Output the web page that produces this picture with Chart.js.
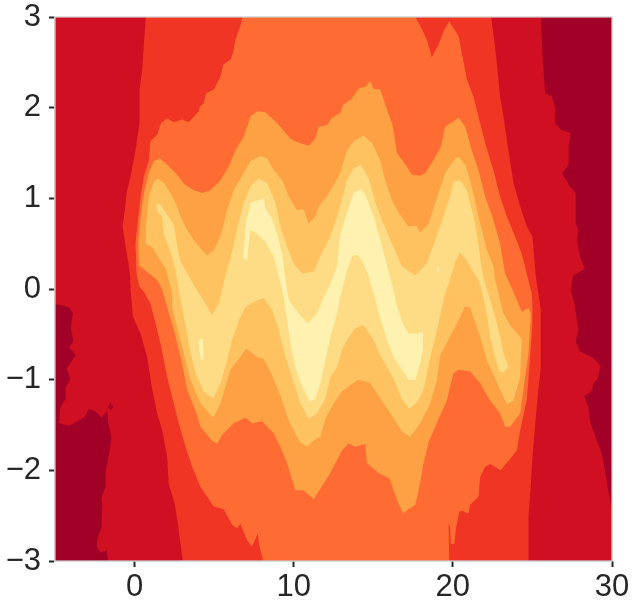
<!DOCTYPE html>
<html lang="en">
<head>
  <meta charset="UTF-8" />
  <title>Filled contour</title>
  <script src="https://cdn.jsdelivr.net/npm/chart.js"></script>
  <style>
    body { margin: 0; background: #fff; }
    canvas { display: block; }
  </style>
</head>
<body>
  <canvas id="contour" width="636" height="609"></canvas>
  <script>
    const xTicks = [0, 10, 20, 30];
    const yTicks = [-3, -2, -1, 0, 1, 2, 3];

    // contour outlines in data units [x, y], outermost first
    const level0 = [[-5,-3],[30,-3],[30,3],[-5,3]];
    const level1 = [[-5,3],[25.54,3],[25.63,2.6],[25.8,2.16],[26.21,2.13],[26.42,2.01],[26.42,1.83],[26.84,1.75],[27.41,1.72],[27.28,1.57],[27.28,1.38],[26.88,1.27],[27.36,1.13],[27.72,1.06],[27.72,0.72],[27.89,0.65],[27.78,0.54],[28.03,0.34],[28.3,0.22],[27.57,0.15],[27.41,-0.01],[27.64,-0.16],[27.88,-0.45],[27.72,-0.58],[27.99,-0.69],[28.83,-0.76],[29.29,-0.85],[29.1,-0.99],[28.83,-1.04],[28.72,-1.13],[28.24,-1.18],[28.51,-1.3],[28.62,-1.46],[29.04,-1.67],[29.35,-1.81],[29.56,-2],[29.77,-2.22],[30,-2.44],[30,-3],[-1.67,-3],[-1.76,-2.88],[-2.13,-2.91],[-2.38,-2.84],[-2.34,-2.75],[-2.09,-2.64],[-2.03,-2.37],[-2.09,-2.31],[-1.82,-2.18],[-1.82,-2.02],[-1.51,-1.72],[-1.46,-1.63],[-1.65,-1.48],[-1.72,-1.34],[-2.07,-1.42],[-2.45,-1.35],[-2.87,-1.32],[-3.12,-1.41],[-3.6,-1.46],[-4.12,-1.51],[-4.75,-1.48],[-4.65,-1.3],[-4.33,-1.21],[-4.33,-1.08],[-4.02,-0.99],[-4.27,-0.88],[-3.7,-0.73],[-4.12,-0.64],[-3.84,-0.58],[-4,-0.43],[-3.87,-0.27],[-4.12,-0.2],[-4.75,-0.17],[-5,-0.17]];
    const darkSpot = [[-1.67,-1.3],[-1.51,-1.25],[-1.36,-1.3],[-1.51,-1.34]];
    const level2 = [[0.71,3],[0.59,2.71],[0.48,2.42],[0.31,2.2],[0.31,1.83],[0.06,1.53],[-0.25,1.24],[-0.5,1.06],[-0.63,0.84],[-0.75,0.69],[-0.56,0.47],[-0.29,0.17],[-0.25,-0.01],[-0.1,-0.31],[0.38,-0.49],[0.79,-0.75],[1.11,-1.11],[1.42,-1.37],[1.74,-1.56],[2.05,-1.85],[2.15,-2.15],[2.53,-2.37],[2.72,-2.59],[3.03,-3],[24.75,-3],[24.75,-2.51],[24.85,-2.29],[25,-1.85],[25.27,-1.3],[25.52,-0.86],[25.52,-0.22],[25.21,0.14],[25,0.58],[24.65,0.69],[24.23,0.91],[23.81,1.17],[23.49,1.53],[23.18,1.9],[22.97,2.12],[22.7,2.6],[22.41,3]];
    const level3 = [[6.78,3],[6.65,2.9],[6.34,2.75],[6.19,2.6],[6.03,2.53],[5.56,2.47],[5.4,2.34],[4.98,2.2],[4.5,2.16],[4.35,2.05],[4.1,2.01],[4.04,1.96],[3.62,1.88],[3.41,1.84],[2.99,1.87],[2.47,1.84],[2.05,1.88],[1.67,1.83],[1.42,1.7],[1,1.63],[0.9,1.42],[0.59,1.24],[0.38,1.02],[0.17,0.69],[0.06,0.5],[0.13,0.17],[0.29,0.03],[0.59,-0.03],[1,-0.16],[1.32,-0.38],[1.63,-0.6],[2.05,-0.97],[2.36,-1.19],[2.78,-1.48],[3.2,-1.74],[3.62,-1.96],[4.14,-2.18],[4.98,-2.4],[5.61,-2.43],[6.13,-2.6],[6.44,-2.64],[6.65,-2.59],[7.07,-2.77],[7.38,-2.84],[7.74,-2.7],[7.85,-2.84],[8.08,-3],[19.77,-3],[19.73,-2.59],[19.83,-2.63],[19.87,-2.81],[20.1,-2.81],[20.19,-2.64],[20.42,-2.45],[20.67,-2.45],[20.98,-2.48],[21.09,-2.38],[21.61,-2.29],[21.72,-2.07],[22.03,-1.96],[22.34,-1.93],[23.01,-2],[23.7,-1.85],[24.02,-1.78],[24.23,-1.56],[24.65,-1.22],[24.85,-0.75],[25,-0.38],[25,-0.16],[24.96,-0.05],[24.64,0.17],[24.33,0.39],[23.91,0.58],[23.39,0.8],[22.97,1.02],[22.55,1.31],[22.03,1.61],[21.61,1.9],[21.3,2.12],[20.88,2.31],[20.57,2.6],[20.36,2.79],[19.77,2.95],[19.41,2.84],[19.1,2.69],[18.68,2.56],[18.37,2.75],[17.95,2.9],[17.64,3]];
    const level4 = [[0.29,0.26],[0.23,0.5],[0.38,0.8],[0.59,1.06],[0.9,1.28],[1.21,1.41],[1.59,1.44],[2.05,1.37],[2.68,1.26],[3.1,1.16],[3.72,1.09],[4.25,1.06],[4.77,1.09],[5.4,1.2],[5.92,1.35],[6.34,1.53],[6.86,1.68],[7.28,1.9],[7.7,1.96],[8.22,1.95],[8.95,1.83],[9.79,1.66],[10.21,1.62],[10.94,1.58],[11.36,1.66],[11.57,1.79],[12.09,1.81],[12.41,1.89],[12.93,1.94],[13.1,2.03],[13.66,2.1],[14.08,2.21],[14.5,2.23],[14.81,2.29],[15.02,2.21],[15.44,2.2],[15.86,1.98],[16.21,1.81],[16.49,1.5],[17.11,1.35],[17.43,1.26],[17.95,1.25],[18.27,1.28],[18.68,1.39],[19.25,1.57],[19.52,1.79],[20.36,1.89],[20.78,1.79],[21.19,1.53],[21.61,1.31],[22.03,1.02],[22.55,0.76],[22.97,0.5],[23.28,0.17],[23.7,0.01],[24.33,-0.25],[24.75,-0.21],[24.9,-0.27],[24.75,-0.71],[24.23,-1.37],[23.6,-1.52],[23.28,-1.52],[22.97,-1.37],[22.34,-1.23],[21.72,-1.04],[21.09,-0.91],[20.36,-0.89],[20.04,-0.93],[19.62,-1.23],[19.21,-1.39],[18.47,-1.69],[18.16,-1.92],[17.85,-2.22],[17.64,-2.38],[17.11,-2.44],[16.9,-2.48],[16.59,-2.37],[16.28,-2.22],[16.03,-2.09],[15.34,-2.03],[14.6,-1.92],[14.5,-1.71],[13.87,-1.74],[13.45,-1.7],[13.03,-1.78],[12.3,-2.03],[11.26,-2.32],[10.63,-2.22],[10.1,-2.22],[9.58,-1.92],[9.16,-1.74],[8.74,-1.59],[8.01,-1.46],[7.39,-1.48],[6.97,-1.42],[6.23,-1.48],[5.5,-1.61],[5.18,-1.71],[4.87,-1.67],[4.14,-1.52],[3.93,-1.39],[3.31,-1.11],[2.89,-0.75],[2.47,-0.45],[2.05,-0.2],[1.74,-0.01],[1.42,0.1],[0.79,0.19]];
    const level5 = [[0.69,0.5],[0.73,0.72],[0.9,1.02],[1.21,1.18],[1.46,1.22],[1.84,1.17],[2.26,1.06],[2.68,0.91],[2.89,0.8],[3.31,0.65],[3.72,0.54],[4.14,0.45],[4.56,0.37],[4.98,0.43],[5.4,0.58],[5.82,0.87],[6.23,1.09],[6.86,1.28],[7.28,1.41],[7.91,1.47],[8.33,1.44],[8.74,1.31],[9.27,1.2],[9.69,1.02],[10.21,0.87],[10.63,0.88],[10.94,0.72],[11.36,0.8],[11.57,0.91],[12.09,1.02],[12.93,1.28],[13.35,1.53],[13.77,1.63],[14.39,1.69],[14.92,1.61],[15.44,1.42],[15.75,1.2],[16.17,0.98],[16.59,0.84],[17.21,0.69],[17.7,0.7],[17.95,0.62],[18.47,0.72],[18.99,1],[19.52,1.28],[20.14,1.44],[20.36,1.46],[20.78,1.37],[21.19,1.13],[21.72,0.72],[22.14,0.43],[22.55,0.25],[22.66,0.1],[23.18,-0.27],[23.6,-0.4],[24.33,-0.55],[24.23,-0.97],[23.81,-1.23],[23.39,-1.27],[23.08,-1.15],[22.13,-0.78],[21.72,-0.53],[21.09,-0.21],[20.77,-0.19],[20.25,-0.38],[19.21,-0.73],[19,-1],[18.58,-1.26],[17.95,-1.48],[17.32,-1.63],[16.8,-1.57],[16.07,-1.37],[15.65,-1.26],[14.81,-1.04],[14.5,-1.02],[14.08,-1],[13.56,-1.06],[13.03,-1.13],[12.51,-1.26],[11.99,-1.43],[11.67,-1.63],[11.26,-1.67],[10.84,-1.74],[10.42,-1.69],[10.21,-1.63],[9.69,-1.45],[9.16,-1.17],[8.64,-0.95],[8.12,-0.77],[7.7,-0.75],[7.03,-0.66],[6.03,-0.89],[5.4,-1.26],[4.94,-1.42],[4.14,-1.26],[3.51,-1],[3.31,-0.86],[2.78,-0.49],[2.36,-0.2],[2.36,-0.08],[2.26,0.03],[1.95,0.23],[1.53,0.34],[1.11,0.46]];
    const level6 = [[1.38,0.94],[1.63,0.93],[2.05,0.82],[2.47,0.71],[2.68,0.47],[2.89,0.3],[3.2,0.21],[3.72,0.04],[4.25,-0.1],[4.87,-0.29],[5.29,-0.16],[5.71,0.14],[6.03,0.34],[6.44,0.65],[6.86,0.95],[7.28,1.13],[7.81,1.22],[8.33,1.17],[8.85,0.95],[9.16,0.69],[9.58,0.47],[9.99,0.28],[10.53,0.17],[11.26,0.19],[11.67,0.36],[12.3,0.58],[12.82,0.84],[13.35,1.2],[13.77,1.33],[14.23,1.37],[14.71,1.22],[15.13,0.95],[15.54,0.76],[16.07,0.54],[16.8,0.25],[17.63,0.15],[18.37,0.28],[18.9,0.54],[19.41,0.8],[19.83,1.02],[20.04,1.18],[20.46,1.2],[20.88,1.09],[21.3,0.8],[21.61,0.5],[21.82,0.21],[22.14,-0.01],[22.34,-0.12],[22.66,-0.31],[22.97,-0.53],[23.18,-0.71],[23.49,-0.86],[23.18,-0.92],[22.93,-0.91],[22.66,-0.75],[22.34,-0.53],[22.13,-0.27],[21.82,-0.01],[21.61,0.1],[21.19,0.21],[20.88,0.32],[20.46,0.4],[20.14,0.3],[19.94,0.17],[19.52,-0.05],[19.21,-0.27],[19.1,-0.38],[18.58,-0.75],[18.16,-1.11],[17.78,-1.24],[17.26,-1.32],[16.8,-1.21],[16.28,-0.99],[15.44,-0.73],[15.02,-0.56],[14.39,-0.4],[13.87,-0.43],[13.35,-0.56],[13.03,-0.67],[12.72,-0.86],[12.3,-0.97],[11.99,-1.21],[11.46,-1.37],[10.94,-1.43],[10.42,-1.26],[10.1,-1.08],[9.69,-0.86],[9.37,-0.67],[9.06,-0.45],[8.64,-0.23],[8.12,-0.1],[7.49,-0.14],[6.97,-0.2],[6.65,-0.31],[6.13,-0.56],[5.82,-0.78],[5.4,-1.04],[4.94,-1.21],[4.35,-1.13],[3.93,-0.97],[3.51,-0.71],[3.3,-0.49],[3.1,-0.31],[2.78,-0.01],[2.57,0.21],[2.36,0.36],[1.84,0.61],[1.74,0.8],[1.42,0.85]];
    const level7 = [[6.8,0.35],[7.03,0.76],[7.32,0.95],[8.12,1],[8.22,0.89],[8.63,0.78],[8.95,0.61],[9.27,0.39],[9.48,0.1],[9.69,-0.12],[10.21,-0.25],[10.88,-0.38],[11.46,-0.27],[11.88,-0.1],[12.3,0.06],[12.72,0.25],[12.93,0.61],[13.35,0.84],[13.77,1.06],[14.23,1.1],[14.5,1.04],[15.02,0.8],[15.44,0.54],[15.86,0.26],[16.17,0.06],[16.49,-0.19],[16.9,-0.4],[17.22,-0.49],[17.85,-0.49],[18.12,-0.47],[18.12,-0.67],[17.95,-0.82],[17.63,-1],[17.22,-1],[16.7,-0.86],[16.27,-0.75],[15.86,-0.56],[15.54,-0.38],[15.02,-0.05],[14.71,0.14],[14.29,0.32],[13.97,0.38],[13.66,0.36],[13.35,0.21],[13.14,0.06],[12.93,-0.08],[12.72,-0.27],[12.3,-0.53],[11.99,-0.78],[11.67,-1.04],[11.36,-1.21],[11.04,-1.24],[10.63,-1.11],[10.42,-1.02],[10.1,-0.86],[9.79,-0.6],[9.58,-0.34],[9.37,-0.08],[9.12,0.1],[8.74,0.36],[8.22,0.52],[7.7,0.61],[7.28,0.65],[7.07,0.32]];
    const paleSpotA = [[4.04,-0.56],[4.28,-0.55],[4.35,-0.78],[4.18,-0.78],[4.06,-0.65]];
    const paleSpotB = [[19.02,0.26],[19.12,0.24],[19.12,0.19],[19.04,0.2]];

    const layers = [level0, level1, darkSpot, level2, level3, level4, level5, level6, level7, paleSpotA, paleSpotB];
    const layerColors = ['#a10027', '#d01022', '#a10027', '#f03524', '#fe6c33', '#fea044', '#fec260', '#fedc85', '#fff2b0', '#fff2b0', '#fff2b0'];

    // top and right spines, Chart.js only draws the two axis borders
    const frame = {
      id: 'frame',
      afterDatasetsDraw(chart) {
        const { ctx, chartArea: a } = chart;
        ctx.save();
        ctx.strokeStyle = '#cccccc';
        ctx.lineWidth = 1.25;
        ctx.strokeRect(a.left, a.top, a.right - a.left, a.bottom - a.top);
        ctx.restore();
      }
    };

    new Chart(document.getElementById('contour').getContext('2d'), {
      type: 'scatter',
      data: {
        datasets: layers.map((pts, i) => ({
          data: pts.map(p => ({ x: p[0], y: p[1] })),
          showLine: true,
          fill: 'shape',
          backgroundColor: layerColors[i],
          borderWidth: 0,
          pointRadius: 0,
          order: layers.length - i
        }))
      },
      options: {
        responsive: false,
        animation: false,
        layout: { padding: { top: 17, right: 24, left: 0, bottom: 0 } },
        plugins: { legend: { display: false }, tooltip: { enabled: false } },
        scales: {
          x: {
            type: 'linear',
            min: -5,
            max: 30,
            afterBuildTicks: s => { s.ticks = xTicks.map(v => ({ value: v })); },
            afterFit: s => { s.height = 48; s.paddingLeft = 0; s.paddingRight = 0; },
            grid: { drawOnChartArea: false, tickLength: 6, tickWidth: 2, tickColor: '#262626' },
            border: { color: '#cccccc', width: 1.25 },
            ticks: {
              maxRotation: 0,
              padding: 2,
              color: '#262626',
              font: { family: '"Liberation Sans"', size: 31 },
              callback: v => String(v)
            }
          },
          y: {
            min: -3,
            max: 3,
            afterBuildTicks: s => { s.ticks = yTicks.map(v => ({ value: v })); },
            afterFit: s => { s.width = 55; s.paddingTop = 0; s.paddingBottom = 0; },
            grid: { drawOnChartArea: false, tickLength: 6, tickWidth: 2, tickColor: '#262626' },
            border: { color: '#cccccc', width: 1.25 },
            ticks: {
              padding: 8,
              color: '#262626',
              font: { family: '"Liberation Sans"', size: 31 },
              callback: v => (v < 0 ? '\u2212' + Math.abs(v) : String(v))
            }
          }
        }
      },
      plugins: [frame]
    });
  </script>
</body>
</html>
